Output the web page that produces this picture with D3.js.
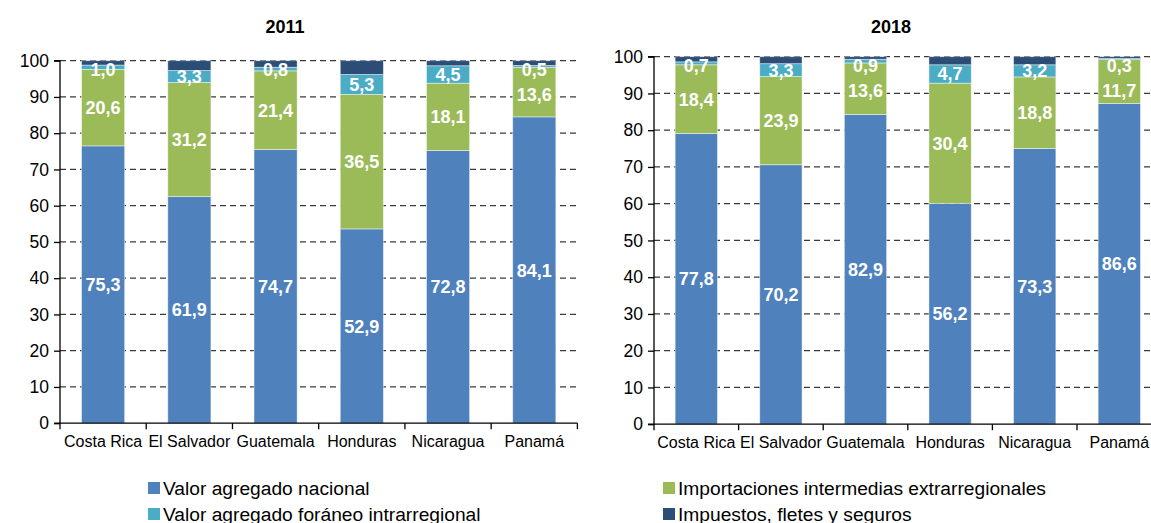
<!DOCTYPE html>
<html>
<head>
<meta charset="utf-8">
<script src="https://cdn.jsdelivr.net/npm/d3@7/dist/d3.min.js"></script>
<style>
  html, body { margin: 0; padding: 0; background: #ffffff; }
  svg { display: block; font-family: "Liberation Sans", Arial, Helvetica, sans-serif; }
</style>
</head>
<body>
<svg id="chart" width="1151" height="523"></svg>
<script>
// ---------- DATA ----------
const categories = ["Costa Rica", "El Salvador", "Guatemala", "Honduras", "Nicaragua", "Panamá"];
const seriesNames = [
  "Valor agregado nacional",
  "Importaciones intermedias extrarregionales",
  "Valor agregado foráneo intrarregional",
  "Impuestos, fletes y seguros"
];
const yTicks = [0, 10, 20, 30, 40, 50, 60, 70, 80, 90, 100];

// Segment heights as drawn
const nacional2011        = [76.5, 62.5, 75.5, 53.6, 75.2, 84.5];
const extrarregional2011  = [21.1, 31.5, 21.7, 37.1, 18.6, 13.7];
const intrarregional2011  = [1.2, 3.3, 1.0, 5.5, 4.8, 0.5];
const impuestos2011       = [1.2, 2.7, 1.8, 3.8, 1.4, 1.3];

const nacional2018        = [79.1, 70.6, 84.3, 60.1, 75.0, 87.3];
const extrarregional2018  = [18.7, 24.0, 14.0, 32.7, 19.5, 11.9];
const intrarregional2018  = [0.8, 3.5, 1.0, 5.0, 3.3, 0.3];
const impuestos2018       = [1.4, 1.9, 0.7, 2.2, 2.2, 0.5];

// Data label texts
const labNacional2011       = ["75,3", "61,9", "74,7", "52,9", "72,8", "84,1"];
const labExtrarregional2011 = ["20,6", "31,2", "21,4", "36,5", "18,1", "13,6"];
const labIntrarregional2011 = ["1,0", "3,3", "0,8", "5,3", "4,5", "0,5"];
const labNacional2018       = ["77,8", "70,2", "82,9", "56,2", "73,3", "86,6"];
const labExtrarregional2018 = ["18,4", "23,9", "13,6", "30,4", "18,8", "11,7"];
const labIntrarregional2018 = ["0,7", "3,3", "0,9", "4,7", "3,2", "0,3"];

const colors = ["#4F81BD", "#9BBB59", "#4BACC6", "#2C4D75"];

// ---------- LAYOUT ----------
const svg = d3.select("#chart");

const panels = [
  { title: "2011", titleX: 285, left: 60, right: 577.4, top: 60.7, bottom: 423.2,
    series: [nacional2011, extrarregional2011, intrarregional2011, impuestos2011],
    labels: [labNacional2011, labExtrarregional2011, labIntrarregional2011, null] },
  { title: "2018", titleX: 891, left: 654, right: 1161.6, top: 56.7, bottom: 424.2,
    series: [nacional2018, extrarregional2018, intrarregional2018, impuestos2018],
    labels: [labNacional2018, labExtrarregional2018, labIntrarregional2018, null] }
];

panels.forEach(p => {
  const g = svg.append("g");
  const x = d3.scaleBand().domain(categories).range([p.left, p.right]).paddingInner(0.5).paddingOuter(0.25);
  const y = d3.scaleLinear().domain([0, 100]).range([p.bottom, p.top]);

  // title
  g.append("text")
    .attr("x", p.titleX).attr("y", 33)
    .attr("text-anchor", "middle")
    .attr("font-size", 18).attr("font-weight", "bold").attr("fill", "#000")
    .text(p.title);

  // gridlines
  g.append("g").selectAll("line")
    .data(yTicks.filter(t => t > 0))
    .join("line")
    .attr("x1", p.left).attr("x2", p.right)
    .attr("y1", d => y(d)).attr("y2", d => y(d))
    .attr("stroke", "#3a3a3a").attr("stroke-width", 1.3)
    .attr("stroke-dasharray", "6,4");

  // stacked data
  const rows = categories.map((c, i) => {
    const o = { cat: c };
    p.series.forEach((s, k) => { o["s" + k] = s[i]; });
    return o;
  });
  const stack = d3.stack().keys(p.series.map((s, k) => "s" + k));
  const stacked = stack(rows);

  stacked.forEach((layer, k) => {
    g.append("g").selectAll("rect")
      .data(layer)
      .join("rect")
      .attr("x", d => x(d.data.cat))
      .attr("width", x.bandwidth())
      .attr("y", d => y(d[1]))
      .attr("height", d => y(d[0]) - y(d[1]))
      .attr("fill", colors[k])
      .attr("stroke", "rgba(255,255,255,0.55)")
      .attr("stroke-width", 0.8);
  });

  // data labels: centred in segment, kept inside the top, pushed down to avoid overlap
  const labelY = categories.map(() => [null, null, null]);
  categories.forEach((c, i) => {
    let above = null;
    for (let k = 2; k >= 0; k--) {
      const d = stacked[k][i];
      let yy = Math.max((y(d[0]) + y(d[1])) / 2, p.top + 9);
      if (above !== null && yy - above < 25) yy = above + 25;
      labelY[i][k] = yy;
      above = yy;
    }
  });
  stacked.forEach((layer, k) => {
    const labs = p.labels[k];
    if (!labs) return;
    g.append("g").selectAll("text")
      .data(layer)
      .join("text")
      .attr("x", d => x(d.data.cat) + x.bandwidth() / 2)
      .attr("y", (d, i) => labelY[i][k])
      .attr("dy", "0.36em")
      .attr("text-anchor", "middle")
      .attr("font-size", 18).attr("font-weight", "bold").attr("fill", "#ffffff")
      .text((d, i) => labs[i]);
  });

  // y axis
  const yAxis = d3.axisLeft(y).tickValues(yTicks).tickSize(6).tickPadding(5).tickFormat(d3.format("d"));
  const ya = g.append("g").attr("transform", `translate(${p.left},0)`).call(yAxis);
  ya.select(".domain").attr("stroke", "#000").attr("stroke-width", 1.3).attr("d", `M-6,${p.top}H0V${p.bottom}H-6`);
  ya.selectAll(".tick line").attr("stroke", "#000").attr("stroke-width", 1.3);
  ya.selectAll(".tick text").attr("font-size", 17.5).attr("fill", "#000")
    .attr("font-family", "'Liberation Sans', Arial, sans-serif");

  // x axis
  const xa = g.append("g").attr("transform", `translate(0,${p.bottom})`);
  xa.append("line").attr("x1", p.left).attr("x2", p.right).attr("y1", 0).attr("y2", 0)
    .attr("stroke", "#000").attr("stroke-width", 1.3);
  const edges = categories.map((c, i) => p.left + i * x.step()).concat([p.left + categories.length * x.step()]);
  xa.selectAll("line.tk").data(edges).join("line").attr("class", "tk")
    .attr("x1", d => d).attr("x2", d => d).attr("y1", 0).attr("y2", 6)
    .attr("stroke", "#000").attr("stroke-width", 1.3);
  xa.selectAll("text").data(categories).join("text")
    .attr("x", d => x(d) + x.bandwidth() / 2)
    .attr("y", 24)
    .attr("text-anchor", "middle")
    .attr("font-size", 16).attr("fill", "#000")
    .text(d => d);
});

// ---------- LEGEND ----------
const legendItems = [
  { name: seriesNames[0], color: colors[0], x: 148, y: 488 },
  { name: seriesNames[2], color: colors[2], x: 148, y: 514 },
  { name: seriesNames[1], color: colors[1], x: 663, y: 488 },
  { name: seriesNames[3], color: colors[3], x: 663, y: 514 }
];
const lg = svg.append("g").selectAll("g").data(legendItems).join("g")
  .attr("transform", d => `translate(${d.x},${d.y})`);
lg.append("rect").attr("x", 0).attr("y", -6).attr("width", 12).attr("height", 12).attr("fill", d => d.color);
lg.append("text").attr("x", 15).attr("y", 0).attr("dy", "0.36em")
  .attr("font-size", 19.2).attr("fill", "#000").text(d => d.name);
</script>
</body>
</html>
